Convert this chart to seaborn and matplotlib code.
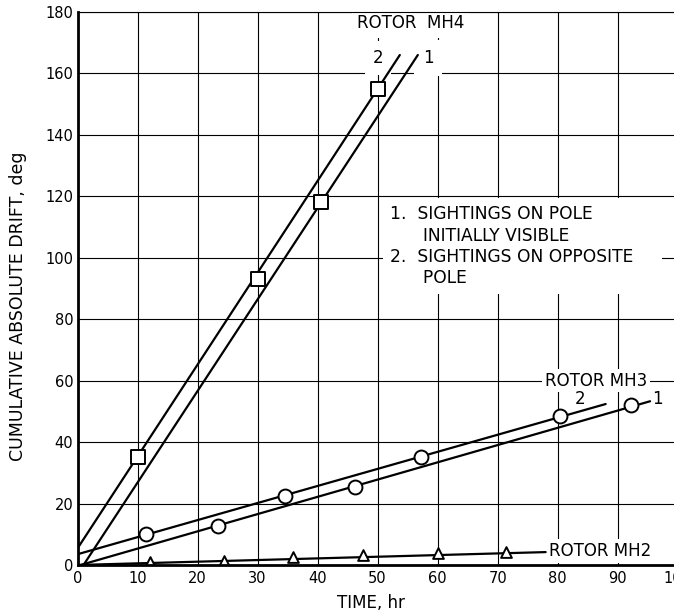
import matplotlib
matplotlib.use("Agg")
import matplotlib.pyplot as plt
import seaborn as sns
import numpy as np

# ---- data ----
# Rotor MH4 (squares) and fitted lines
mh4_pts_x = [10, 30, 40.5, 50]
mh4_pts_y = [35, 93, 118, 155]
mh4_fit2_x = [0, 53.7]
mh4_fit2_y = [5.4, 166]
mh4_fit1_x = [1.0, 56.7]
mh4_fit1_y = [0, 166]

# Rotor MH3 (circles) and fitted lines
mh3_pts_x = [11.4, 23.4, 34.5, 46.3, 57.3, 80.4, 92.3]
mh3_pts_y = [10.0, 12.7, 22.5, 25.5, 35.3, 48.6, 52.0]
mh3_fit2_x = [0, 88]
mh3_fit2_y = [3.5, 52.4]
mh3_fit1_x = [0.5, 95.4]
mh3_fit1_y = [0, 53.3]

# Rotor MH2 (triangles) and fitted line
mh2_pts_x = [12, 24.4, 35.9, 47.6, 60, 71.4]
mh2_pts_y = [1.1, 1.3, 2.7, 3.3, 3.8, 4.3]
mh2_fit_x = [0, 78]
mh2_fit_y = [0, 4.2]

x_ticks = [0, 10, 20, 30, 40, 50, 60, 70, 80, 90, 100]
y_ticks = [0, 20, 40, 60, 80, 100, 120, 140, 160, 180]

sns.set_style("white")
plt.rcParams['font.family'] = ['DejaVu Sans']
plt.rcParams['text.color'] = 'black'
plt.rcParams['axes.labelcolor'] = 'black'
plt.rcParams['xtick.color'] = 'black'
plt.rcParams['ytick.color'] = 'black'

fig = plt.figure(figsize=(6.74, 6.12), dpi=100)
ax = fig.add_axes([0.115, 0.0768, 0.8905, 0.9036])

line_kw = dict(color="black", linewidth=1.6, ax=ax, sort=False, estimator=None, zorder=4)
for xs, ys in [(mh4_fit2_x, mh4_fit2_y), (mh4_fit1_x, mh4_fit1_y),
               (mh3_fit2_x, mh3_fit2_y), (mh3_fit1_x, mh3_fit1_y),
               (mh2_fit_x, mh2_fit_y)]:
    sns.lineplot(x=xs, y=ys, **line_kw)

sc_kw = dict(color="white", edgecolor="black", linewidth=1.4, ax=ax, zorder=5)
sns.scatterplot(x=mh4_pts_x, y=mh4_pts_y, marker="s", s=110, **sc_kw)
sns.scatterplot(x=mh3_pts_x, y=mh3_pts_y, marker="o", s=100, **sc_kw)
sns.scatterplot(x=mh2_pts_x, y=mh2_pts_y, marker="^", s=60, **sc_kw)

ax.set_xlim(0, 100)
ax.set_ylim(0, 180)
ax.set_xticks(x_ticks)
ax.set_yticks(y_ticks)
ax.set_xticklabels([str(v) for v in x_ticks], fontsize=10.5)
ax.set_yticklabels([str(v) for v in y_ticks], fontsize=10.5)
ax.tick_params(length=0)
ax.tick_params(axis="x", pad=4)
ax.tick_params(axis="y", pad=3)
ax.grid(True, color="black", linewidth=0.8)
ax.set_axisbelow(True)

for s in ["left", "bottom"]:
    ax.spines[s].set_linewidth(2.0)
    ax.spines[s].set_color("black")
    ax.spines[s].set_zorder(6)
ax.spines["top"].set_linewidth(0.8)
ax.spines["top"].set_color("black")
ax.spines["top"].set_zorder(6)
ax.spines["right"].set_visible(False)

ax.set_xlabel("TIME, hr", fontsize=12, va="center")
ax.set_ylabel("CUMULATIVE ABSOLUTE DRIFT, deg", fontsize=12.5, va="center", ha="center")
ax.xaxis.set_label_coords(0.489, -0.069)
ax.yaxis.set_label_coords(-0.099, 0.467)

wb = dict(facecolor="white", edgecolor="none", pad=2)
tk = dict(fontsize=12, zorder=3, clip_on=False)

# Rotor MH4 labels
ax.text(46.6, 176.3, "ROTOR  MH4", ha="left", va="center",
        bbox=dict(facecolor="white", edgecolor="none", pad=4), **tk)
ax.text(50.1, 165.0, "2", ha="center", va="center",
        bbox=dict(facecolor="white", edgecolor="none", pad=5.5), **tk)
ax.text(58.4, 165.0, "1", ha="center", va="center",
        bbox=dict(facecolor="white", edgecolor="none", pad=6.5), **tk)

# Legend note
ax.text(52.0, 103.8,
        "1.  SIGHTINGS ON POLE\n      INITIALLY VISIBLE\n2.  SIGHTINGS ON OPPOSITE    \n      POLE",
        ha="left", va="center", linespacing=1.22,
        bbox=dict(facecolor="white", edgecolor="none", pad=5), fontsize=12.3, zorder=3)

# Rotor MH3 labels
ax.text(77.9, 60, "ROTOR MH3", ha="left", va="center", bbox=wb, **tk)
ax.text(83.8, 54.0, "2", ha="center", va="center", bbox=wb, **tk)
ax.text(96.7, 54.0, "1", ha="center", va="center", bbox=wb, **tk)

# Rotor MH2 label
ax.text(78.6, 4.6, "ROTOR MH2", ha="left", va="center", bbox=wb, **tk)

fig.savefig("out.png", dpi=100)
